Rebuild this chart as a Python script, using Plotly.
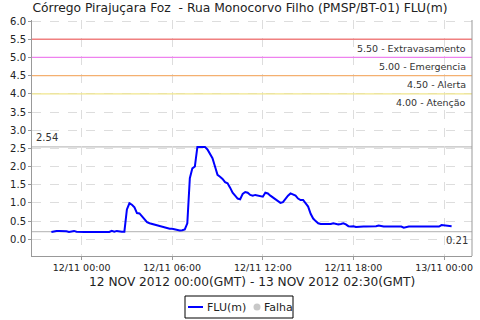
import plotly.graph_objects as go
import pandas as pd

# --- data ---
start_time = "2012-11-11 22:00"
step_minutes = 10
flu_values = [
    0.20, 0.22, 0.23, 0.23, 0.23, 0.23, 0.22, 0.20, 0.21, 0.23, 0.21, 0.20, 0.20,
    0.20, 0.20, 0.20, 0.20, 0.20, 0.20, 0.20, 0.20, 0.20, 0.20, 0.20,
    0.23, 0.21, 0.23, 0.21, 0.21, 0.21,
    0.82, 0.99, 0.95, 0.88, 0.72, 0.71, 0.62, 0.55, 0.47, 0.44, 0.42, 0.40,
    0.38, 0.36, 0.35, 0.32, 0.32, 0.29, 0.29, 0.27, 0.25, 0.24, 0.25, 0.27,
    0.44, 1.68, 1.95, 2.00, 2.54, 2.54, 2.54, 2.54, 2.47, 2.36, 2.23, 2.00,
    1.77, 1.72, 1.66, 1.57, 1.54, 1.42, 1.28, 1.20, 1.12, 1.10, 1.25, 1.30,
    1.28, 1.22, 1.20, 1.22, 1.21, 1.20, 1.17, 1.28, 1.26, 1.20, 1.15, 1.10,
    1.05, 1.00, 1.02, 1.12, 1.20, 1.26, 1.23, 1.20, 1.12, 1.08, 1.08, 1.00,
    0.90, 0.70, 0.57, 0.50, 0.44, 0.42, 0.42, 0.41, 0.41, 0.42, 0.44, 0.42,
    0.41, 0.42, 0.44, 0.41, 0.36, 0.35, 0.36, 0.34, 0.35,
    0.35, 0.35, 0.35, 0.35, 0.35, 0.35, 0.36, 0.38, 0.36, 0.35, 0.35, 0.35,
    0.35, 0.35, 0.35, 0.35, 0.35, 0.32, 0.34, 0.35, 0.35, 0.35, 0.35, 0.35,
    0.35, 0.35, 0.35, 0.35, 0.35, 0.35, 0.35, 0.35, 0.39, 0.38, 0.36, 0.36,
    0.36,
]
limit_values = [5.50, 5.00, 4.50, 4.00]
limit_names = ["Extravasamento", "Emergencia", "Alerta", "Atenção"]
limit_colors = ["#f08080", "#ee82ee", "#f4b070", "#f0e68c"]
max_value = 2.54
min_value = 0.21
x_range = ["2012-11-11 20:43", "2012-11-13 01:51"]
y_range = [-0.46, 6.03]
y_ticks = [0.0, 0.5, 1.0, 1.5, 2.0, 2.5, 3.0, 3.5, 4.0, 4.5, 5.0, 5.5, 6.0]
x_ticks = ["2012-11-12 00:00", "2012-11-12 06:00", "2012-11-12 12:00",
           "2012-11-12 18:00", "2012-11-13 00:00"]
x_tick_labels = ["12/11 00:00", "12/11 06:00", "12/11 12:00", "12/11 18:00", "13/11 00:00"]
series_name = "FLU(m)"
fail_name = "Falha"

times = pd.date_range(start_time, periods=len(flu_values), freq=f"{step_minutes}min")

FONT = "DejaVu Sans"
W, H = 480, 320
ML, MR, MT, MB = 32, 8, 20, 64
PW, PH = W - ML - MR, H - MT - MB


def px_x(p):
    return (p - ML) / PW


def px_y(p):
    return (H - MB - p) / PH


fig = go.Figure()
fig.add_trace(go.Scatter(x=times, y=flu_values, mode="lines", name=series_name,
                         line=dict(color="#0000ff", width=2), showlegend=False))

shapes = []
annotations = []
for v, n, c in zip(limit_values, limit_names, limit_colors):
    shapes.append(dict(type="line", xref="paper", x0=0, x1=1, yref="y", y0=v, y1=v,
                       line=dict(color=c, width=1.3), layer="above"))
    annotations.append(dict(xref="paper", x=0.992, yref="y", y=v, yshift=-9,
                            text=f"{v:.2f} - {n}", showarrow=False, xanchor="right",
                            font=dict(family=FONT, size=9.5, color="#333")))
for v in (max_value, min_value):
    shapes.append(dict(type="line", xref="paper", x0=0, x1=1, yref="y", y0=v, y1=v,
                       line=dict(color="#c0c0c0", width=1.2), layer="below"))
annotations.append(dict(xref="paper", x=0.005, yref="y", y=max_value, yshift=9,
                        text=f"{max_value:.2f}", showarrow=False, xanchor="left",
                        font=dict(family=FONT, size=10, color="#333")))
annotations.append(dict(xref="paper", x=0.995, yref="y", y=min_value, yshift=-9,
                        text=f"{min_value:.2f}", showarrow=False, xanchor="right",
                        font=dict(family=FONT, size=10, color="#333")))
shapes.append(dict(type="line", xref="paper", x0=1, x1=1, yref="paper", y0=0, y1=1,
                   line=dict(color="#999", width=1)))

# x-axis title
annotations.append(dict(xref="paper", x=px_x(252), yref="paper", y=px_y(282),
                        text="12 NOV 2012 00:00(GMT) - 13 NOV 2012 02:30(GMT)",
                        showarrow=False, xanchor="center", yanchor="middle",
                        font=dict(family=FONT, size=12.2, color="#222")))

# custom legend
shapes.append(dict(type="rect", xref="paper", yref="paper",
                   x0=px_x(185), x1=px_x(293), y0=px_y(296), y1=px_y(318),
                   line=dict(color="black", width=1), fillcolor="white"))
shapes.append(dict(type="line", xref="paper", yref="paper",
                   x0=px_x(188), x1=px_x(203), y0=px_y(307), y1=px_y(307),
                   line=dict(color="#0000ff", width=2)))
annotations.append(dict(xref="paper", x=px_x(205), yref="paper", y=px_y(307),
                        text=series_name, showarrow=False, xanchor="left", yanchor="middle",
                        font=dict(family=FONT, size=11, color="#222")))
shapes.append(dict(type="circle", xref="paper", yref="paper",
                   x0=px_x(253.5), x1=px_x(260.5), y0=px_y(303.5), y1=px_y(310.5),
                   line=dict(color="#c8c8c8", width=0), fillcolor="#c8c8c8"))
annotations.append(dict(xref="paper", x=px_x(262), yref="paper", y=px_y(307),
                        text=fail_name, showarrow=False, xanchor="left", yanchor="middle",
                        font=dict(family=FONT, size=11, color="#222")))

fig.update_layout(
    width=W, height=H,
    margin=dict(l=ML, r=MR, t=MT, b=MB, autoexpand=False),
    paper_bgcolor="white", plot_bgcolor="white",
    title=dict(text="Córrego Pirajuçara Foz  - Rua Monocorvo Filho (PMSP/BT-01) FLU(m)",
               x=0.5, xanchor="center", y=0.975, yanchor="middle",
               font=dict(family=FONT, size=12.3, color="#222")),
    font=dict(family=FONT, size=10, color="#222"),
    shapes=shapes, annotations=annotations,
    showlegend=False,
)
fig.update_xaxes(range=x_range, tickvals=x_ticks, ticktext=x_tick_labels,
                 showgrid=True, gridcolor="#dddddd", griddash="dash", gridwidth=1,
                 showline=True, linecolor="#999", linewidth=1,
                 ticks="outside", ticklen=3, tickcolor="#999",
                 tickfont=dict(family=FONT, size=9.5, color="#222"),
                 automargin=False, zeroline=False)
fig.update_yaxes(range=y_range, tickvals=y_ticks, tickformat=".1f",
                 showgrid=True, gridcolor="#dddddd", griddash="dash", gridwidth=1,
                 showline=True, linecolor="#999", linewidth=1,
                 ticks="outside", ticklen=3, tickcolor="#999",
                 tickfont=dict(family=FONT, size=10, color="#222"),
                 automargin=False, zeroline=False)

fig.write_html("out.html")
